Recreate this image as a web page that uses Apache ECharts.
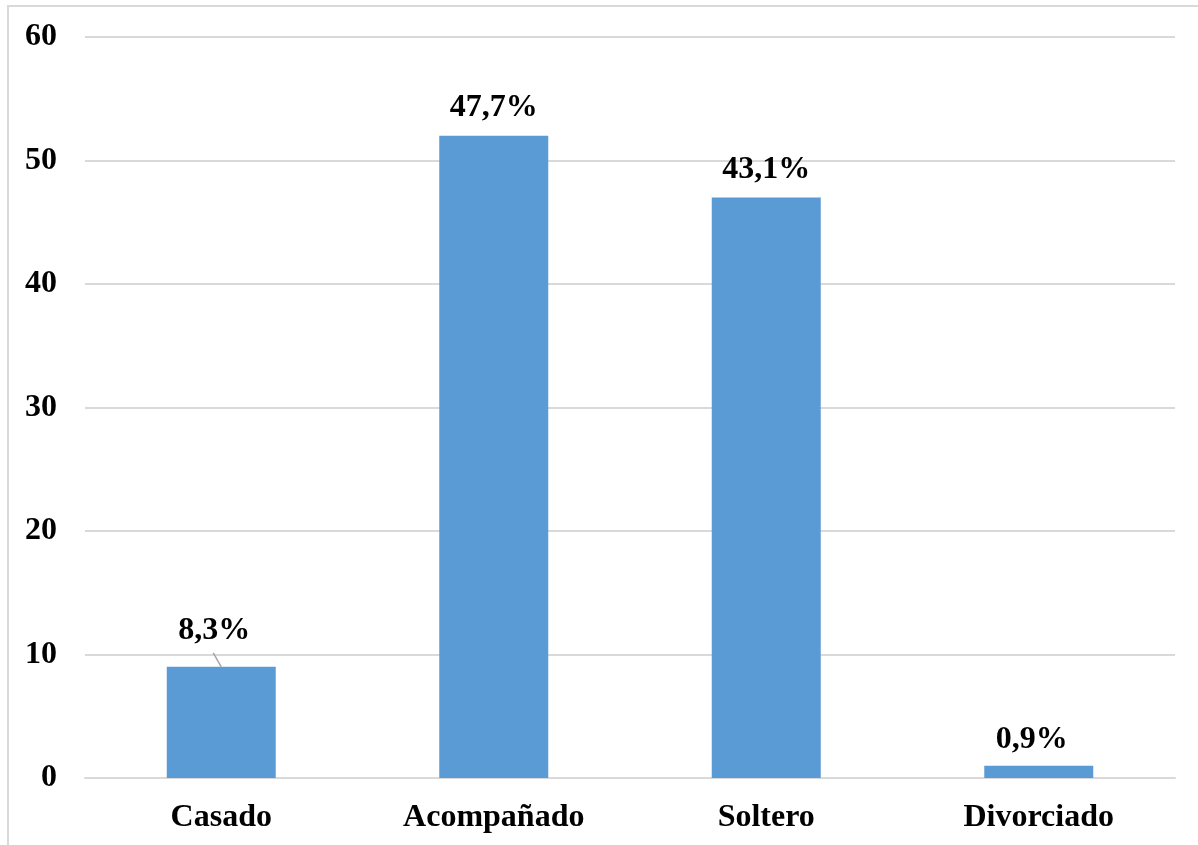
<!DOCTYPE html>
<html><head><meta charset="utf-8">
<script src="https://cdn.jsdelivr.net/npm/echarts@6/dist/echarts.min.js"></script>
<style>
html,body{margin:0;padding:0;background:#fff;overflow:hidden;}
#frame{position:absolute;left:7px;top:5px;width:1200px;height:850px;border:2px solid #d9d9d9;box-sizing:border-box;}
#c{position:absolute;left:0;top:0;width:1198px;height:845px;}
</style></head>
<body>
<div id="frame"></div>
<div id="c"></div>
<script>
const categories = ['Casado', 'Acompañado', 'Soltero', 'Divorciado'];
const counts = [9, 52, 47, 1];
const percentLabels = ['8,3%', '47,7%', '43,1%', '0,9%'];
const yMin = 0, yMax = 60, yStep = 10;

const FONT = '"Liberation Serif", "Times New Roman", serif';
const chart = echarts.init(document.getElementById('c'), null, {renderer: 'canvas'});
chart.setOption({
  animation: false,
  backgroundColor: 'transparent',
  grid: {left: 85, right: 23, top: 37, bottom: 67, containLabel: false},
  xAxis: {
    type: 'category',
    data: categories,
    axisLine: {show: true, lineStyle: {color: '#d9d9d9', width: 2}},
    axisTick: {show: false},
    axisLabel: {color: '#000', fontFamily: FONT, fontWeight: 'bold', fontSize: 32, margin: 24}
  },
  yAxis: {
    type: 'value', min: yMin, max: yMax, interval: yStep,
    axisLine: {show: false}, axisTick: {show: false},
    splitLine: {lineStyle: {color: '#d9d9d9', width: 2}},
    axisLabel: {color: '#000', fontFamily: FONT, fontWeight: 'bold', fontSize: 32, margin: 28, padding: [6, 0, 0, 0]}
  },
  series: [{
    type: 'bar',
    barWidth: '40%',
    itemStyle: {color: '#5b9bd5'},
    data: counts,
    label: {
      show: true, position: 'top', distance: 12,
      color: '#000', fontFamily: FONT, fontWeight: 'bold', fontSize: 32,
      formatter: p => percentLabels[p.dataIndex]
    },
    labelLayout: p => {
      if (p.dataIndex === 0) return {dx: -7, dy: -8};
      if (p.dataIndex === 3) return {dx: -7, dy: 2};
      return {};
    }
  }, {
    type: 'custom',
    silent: true,
    z: 5,
    data: [[0, counts[0]]],
    renderItem: (params, api) => {
      const p = api.coord([api.value(0), api.value(1)]);
      return {
        type: 'line',
        shape: {x1: p[0], y1: p[1], x2: p[0] - 8, y2: p[1] - 14},
        style: {stroke: '#a6a6a6', lineWidth: 1.5}
      };
    }
  }]
});
</script>
</body></html>
